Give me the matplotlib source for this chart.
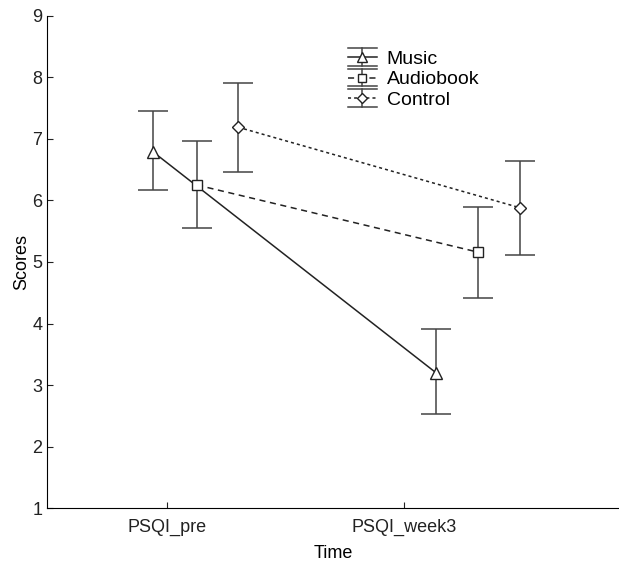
import numpy as np
import matplotlib.pyplot as plt
from matplotlib.lines import Line2D
from matplotlib.legend_handler import HandlerBase

plt.rcParams['font.family'] = ['Liberation Sans', 'DejaVu Sans']

time_labels = ['PSQI_pre', 'PSQI_week3']
groups = ['Music', 'Audiobook', 'Control']

# x positions of each group at the two time points (group offsets around ticks)
x_music = [0.941, 2.135]
x_audio = [1.127, 2.312]
x_control = [1.300, 2.490]

music_mean = [6.79, 3.20]
music_lo = [6.17, 2.53]
music_hi = [7.46, 3.91]

audio_mean = [6.25, 5.16]
audio_lo = [5.55, 4.41]
audio_hi = [6.96, 5.90]

control_mean = [7.19, 5.88]
control_lo = [6.47, 5.12]
control_hi = [7.91, 6.64]

INK = '#222222'
BAR = '#444444'


class ErrLegend(HandlerBase):
    """Legend key like the old stats packages: full-width caps above and below."""
    def __init__(self, marker, ls, ms):
        super().__init__()
        self.marker, self.ls, self.ms = marker, ls, ms

    def create_artists(self, legend, orig_handle, xdescent, ydescent,
                       width, height, fontsize, trans):
        x0, x1 = -xdescent, -xdescent + width
        xm = (x0 + x1) / 2
        y0, y1 = -ydescent - 0.15 * height, -ydescent + 1.15 * height
        ym = -ydescent + height / 2
        arts = [
            Line2D([x0, x1], [y1, y1], color=BAR, lw=1.1),
            Line2D([x0, x1], [y0, y0], color=BAR, lw=1.1),
            Line2D([xm, xm], [y0, y1], color=BAR, lw=1.1),
            Line2D([x0, x1], [ym, ym], color=INK, lw=1.1, linestyle=self.ls),
            Line2D([xm], [ym], marker=self.marker, ms=self.ms, mfc='white',
                   mec=INK, linestyle='none'),
        ]
        for a in arts:
            a.set_transform(trans)
        return arts


fig = plt.figure(figsize=(6.19, 5.64), dpi=100)
ax = fig.add_axes([0.076, 0.099, 0.924, 0.873])

series = [
    (x_music, music_mean, music_lo, music_hi, '^', '-', 9, 'Music'),
    (x_audio, audio_mean, audio_lo, audio_hi, 's', (0, (4, 3)), 7, 'Audiobook'),
    (x_control, control_mean, control_lo, control_hi, 'D', (0, (2, 2)), 6, 'Control'),
]
handles, labels, hmap = [], [], {}
for xs, m, lo, hi, mk, ls, ms, lab in series:
    m = np.array(m)
    yerr = [m - np.array(lo), np.array(hi) - m]
    ax.errorbar(xs, m, yerr=yerr, fmt=mk, linestyle=ls, color=INK,
                mfc='white', mec=INK, ms=ms, lw=1.1, elinewidth=1.1,
                ecolor=BAR, capsize=10.5, capthick=1.1)
    key = Line2D([], [])
    handles.append(key)
    labels.append(lab)
    hmap[key] = ErrLegend(mk, ls, ms * 0.85)

ax.set_xlim(0.494, 2.907)
ax.set_ylim(1, 9)
ax.set_xticks([1, 2])
ax.set_xticklabels(time_labels)
ax.set_yticks(range(1, 10))
ax.tick_params(direction='in', labelsize=13, length=4, width=0.8, colors=INK)
ax.tick_params(axis='x', pad=8)
ax.spines['top'].set_visible(False)
ax.spines['right'].set_visible(False)
ax.set_xlabel('Time', fontsize=13, labelpad=6)
ax.set_ylabel('Scores', fontsize=13, labelpad=1)

ax.legend(handles, labels, handler_map=hmap, frameon=False, loc='upper left',
          bbox_to_anchor=(0.540, 0.935), bbox_transform=fig.transFigure,
          fontsize=14, handlelength=1.5, handletextpad=0.5,
          labelspacing=0.15, borderpad=0.2)

fig.savefig('out.png', dpi=100)
